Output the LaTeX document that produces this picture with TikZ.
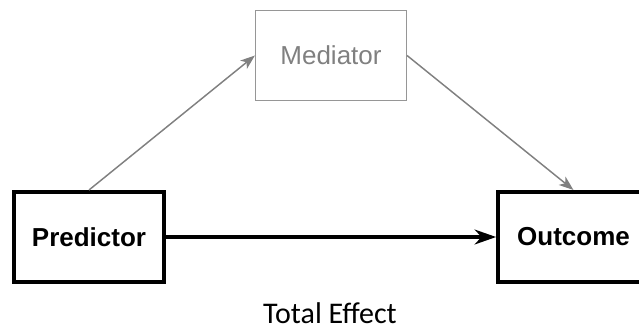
\documentclass[tikz,border=0pt]{standalone}
\usepackage{fontspec}
\setmainfont{Liberation Sans}
\newfontfamily\calibrifont{Carlito}
\usetikzlibrary{arrows.meta}

\definecolor{medgray}{RGB}{128,128,128}
\definecolor{medline}{RGB}{150,150,150}

\begin{document}
\begin{tikzpicture}[x=0.75pt, y=-0.75pt,
    box/.style={draw, rectangle, minimum width=113pt, minimum height=67.5pt,
      inner sep=0pt, font=\fontsize{19.5}{23}\selectfont},
    mainbox/.style={box, line width=3pt, font=\fontsize{19.5}{23}\selectfont\bfseries},
    medbox/.style={box, draw=medline, line width=1.1pt, text=medgray},
    patharrow/.style={draw=medgray, line width=1.1pt,
      -{Stealth[length=11pt, width=8pt, inset=3pt]}},
    totalarrow/.style={line width=3pt,
      -{Stealth[length=16pt, width=11pt, inset=5pt]}}]
  \useasboundingbox (0,0) rectangle (639,330);
  % boxes
  \node[mainbox] (pred) at (89,237) {Predictor};
  \node[medbox] (med) at (331,55.5) {Mediator};
  \node[mainbox] (out) at (573.5,237) {Outcome};
  \node[font=\calibrifont\fontsize{22.5}{26}\selectfont] (total) at (330,313) {Total Effect};
  % paths
  \draw[patharrow] (pred.north) -- (med.west);
  \draw[patharrow] (med.east) -- (out.north);
  \draw[totalarrow] (pred.east) -- (out.west);
\end{tikzpicture}
\end{document}
